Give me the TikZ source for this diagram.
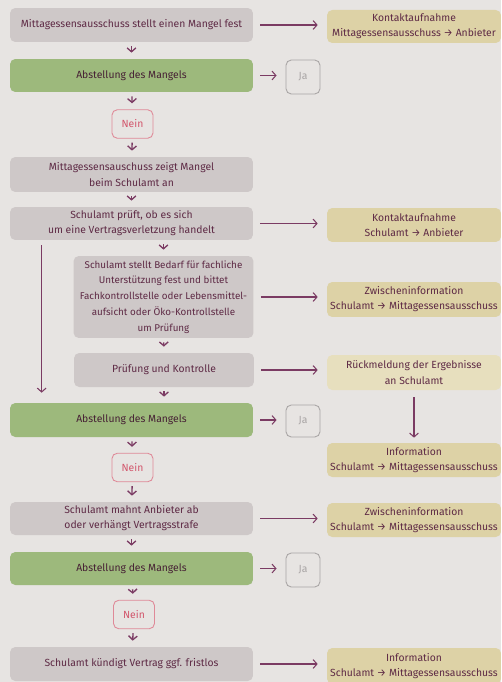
\documentclass[tikz,border=0pt]{standalone}
\usepackage{fontspec}
\setmainfont{Fira Sans}
\usetikzlibrary{arrows.meta}
\definecolor{bg}{HTML}{E7E4E2}
\definecolor{grau}{HTML}{CEC8C8}
\definecolor{gruen}{HTML}{9DB97C}
\definecolor{sand}{HTML}{DDD2A6}
\definecolor{hsand}{HTML}{E7DFBE}
\definecolor{txt}{HTML}{5E2A45}
\definecolor{pfeil}{HTML}{7B3B63}
\definecolor{rot}{HTML}{D2566C}
\definecolor{jagrau}{HTML}{A8A4A4}
\tikzset{
 box/.style={rounded corners=3pt,inner sep=0pt,align=center,text=txt,font=\fontsize{5.9}{8.6}\selectfont},
 links/.style={box,fill=grau,minimum width=4.86cm},
 mitte/.style={box,fill=grau,minimum width=3.6cm},
 gruenbox/.style={box,fill=gruen,text=txt!75!black,minimum width=4.86cm},
 rechts/.style={box,fill=sand,minimum width=3.48cm},
 jabox/.style={box,draw=jagrau,line width=.5pt,text=jagrau,minimum width=.68cm,minimum height=.68cm},
 neinbox/.style={box,draw=rot!70,line width=.5pt,text=rot,minimum width=.82cm,minimum height=.57cm},
 arr/.style={draw=pfeil,line width=.6pt,-{Straight Barb[length=2.2pt,width=5pt]}},
 harr/.style={arr,shorten <=.14cm,shorten >=.18cm},
 darr/.style={arr,line width=.75pt,shorten <=.08cm,shorten >=.12cm}
}
\begin{document}
\begin{tikzpicture}[x=.02cm,y=-.02cm]
\useasboundingbox(0,0) rectangle (501,682);
\fill[bg](0,0) rectangle (501,682);
\node[links,minimum height=.68cm](m1) at (131.5,25) {Mittagessensausschuss stellt einen Mangel fest};
\node[rechts,minimum height=.66cm](k1) at (414,26.5) {Kontaktaufnahme\\Mittagessensausschuss → Anbieter};
\node[gruenbox,minimum height=.66cm](ab1) at (131.5,75.5) {Abstellung des Mangels};
\node[jabox](ja1) at (303,77) {Ja};
\node[neinbox](n1) at (132.5,124) {Nein};
\node[links,minimum height=.7cm](m2) at (131.5,174.5) {Mittagessensauschuss zeigt Mangel\\beim Schulamt an};
\node[links,minimum height=.66cm](pk) at (131.5,223.5) {Schulamt prüft, ob es sich\\um eine Vertragsverletzung handelt};
\node[rechts,minimum height=.68cm](k2) at (414,225) {Kontaktaufnahme\\Schulamt → Anbieter};
\node[mitte,minimum height=1.64cm,font=\fontsize{5.6}{9}\selectfont](sb) at (163.5,297) {Schulamt stellt Bedarf für fachliche\\Unterstützung fest und bittet\\Fachkontrollstelle oder Lebensmittel-\\aufsicht oder Öko-Kontrollstelle\\um Prüfung};
\node[rechts,minimum height=.7cm](z1) at (414,299.5) {Zwischeninformation\\Schulamt → Mittagessensausschuss};
\node[mitte,minimum height=.68cm](pu) at (164,370) {Prüfung und Kontrolle};
\node[rechts,fill=hsand,minimum height=.7cm](rm) at (414,372.5) {Rückmeldung der Ergebnisse\\an Schulamt};
\node[gruenbox,minimum height=.68cm](ab2) at (131.5,420) {Abstellung des Mangels};
\node[jabox,minimum height=.64cm](ja2) at (303,421) {Ja};
\node[neinbox](n2) at (132.5,467.5) {Nein};
\node[rechts,minimum height=.68cm](i1) at (414,460) {Information\\Schulamt → Mittagessensausschuss};
\node[links,minimum height=.66cm](ma) at (131.5,518.5) {Schulamt mahnt Anbieter ab\\oder verhängt Vertragsstrafe};
\node[rechts,minimum height=.68cm](z2) at (414,520) {Zwischeninformation\\Schulamt → Mittagessensausschuss};
\node[gruenbox,minimum height=.66cm](ab3) at (131.5,568.5) {Abstellung des Mangels};
\node[jabox](ja3) at (303,570) {Ja};
\node[neinbox](n3) at (134,614.5) {Nein};
\node[links,minimum height=.68cm](kv) at (131.5,664) {Schulamt kündigt Vertrag ggf. fristlos};
\node[rechts,minimum height=.72cm](i2) at (414,666) {Information\\Schulamt → Mittagessensausschuss};
\draw[harr](m1.east)--(m1.east-|k1.west);
\draw[harr](pk.east)--(pk.east-|k2.west);
\draw[harr](sb.east)--(sb.east-|z1.west);
\draw[harr](pu.east)--(pu.east-|rm.west);
\draw[harr](ma.east)--(ma.east-|z2.west);
\draw[harr](kv.east)--(kv.east-|i2.west);
\draw[harr](ab1.east)--(ab1.east-|ja1.west);
\draw[harr](ab2.east)--(ab2.east-|ja2.west);
\draw[harr](ab3.east)--(ab3.east-|ja3.west);
\draw[darr](m1)--(ab1);
\draw[darr](ab1)--(n1);
\draw[darr](n1)--(m2);
\draw[darr](m2)--(pk);
\draw[darr](pk.south-|sb.north)--(sb.north);
\draw[darr](sb)--(pu);
\draw[darr](pu.south)--(ab2.north-|pu.south);
\draw[darr](ab2)--(n2);
\draw[darr](n2)--(ma);
\draw[darr](ma)--(ab3);
\draw[darr](ab3)--(n3);
\draw[darr](n3)--(kv);
\draw[arr,shorten <=.1cm,shorten >=.2cm]([xshift=.64cm]pk.south west)--([xshift=.64cm]ab2.north west);
\draw[arr,shorten <=.14cm,shorten >=.1cm](rm)--(i1);
\end{tikzpicture}
\end{document}
